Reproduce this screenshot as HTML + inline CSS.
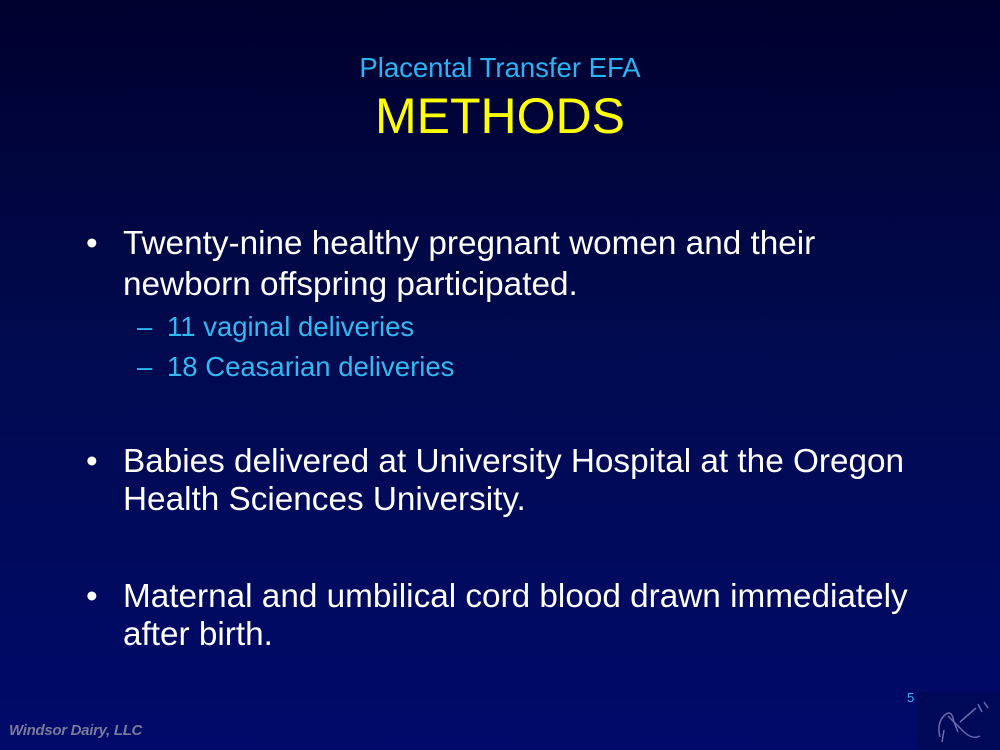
<!DOCTYPE html>
<html><head><meta charset="utf-8"><style>
body{margin:0;width:1000px;height:750px;overflow:hidden;background:linear-gradient(#00002e 0%,#000a4e 45%,#000a6a 100%);font-family:"Liberation Sans",sans-serif;position:relative}
.a{position:absolute;white-space:nowrap}
.sub{color:#33b8f0;font-size:27.5px;line-height:30px}
.b{color:#fff;font-size:33.3px;line-height:38px}
</style></head><body>
<div class="a" style="left:0;width:1000px;text-align:center;top:52px;font-size:27.5px;color:#2ab4f2">Placental Transfer EFA</div>
<div class="a" style="left:0;width:1000px;text-align:center;top:87px;font-size:50px;color:#ffff00">METHODS</div>
<div class="a b" style="left:86px;top:225px">•</div>
<div class="a b" style="left:123px;top:225px">Twenty-nine healthy pregnant women and their</div>
<div class="a b" style="left:123px;top:266px">newborn offspring participated.</div>
<div class="a sub" style="left:137px;top:312px">–</div>
<div class="a sub" style="left:167px;top:312px">11 vaginal deliveries</div>
<div class="a sub" style="left:137px;top:352px">–</div>
<div class="a sub" style="left:167px;top:352px">18 Ceasarian deliveries</div>
<div class="a b" style="left:86px;top:443px">•</div>
<div class="a b" style="left:123px;top:443px">Babies delivered at University Hospital at the Oregon<br>Health Sciences University.</div>
<div class="a b" style="left:86px;top:578px">•</div>
<div class="a b" style="left:123px;top:578px">Maternal and umbilical cord blood drawn immediately<br>after birth.</div>
<div class="a" style="left:907px;top:690px;font-size:13px;color:#3ab8f0">5</div>
<div class="a" style="left:9px;top:722px;font-size:15px;font-weight:bold;font-style:italic;color:#7a7a9a;letter-spacing:-0.3px">Windsor Dairy, LLC</div>
<svg class="a" style="left:918px;top:692px" width="82" height="58"><rect width="82" height="58" fill="#000858"/><path d="M22 45 Q18 30 28 22 Q34 18 36 30 L40 40 M30 24 L46 40 Q55 48 62 44 M42 30 L58 16 M60 12 L64 20 M66 10 L70 16 M24 50 L26 38" stroke="#6a6ab0" stroke-width="1.5" fill="none"/></svg>
</body></html>
